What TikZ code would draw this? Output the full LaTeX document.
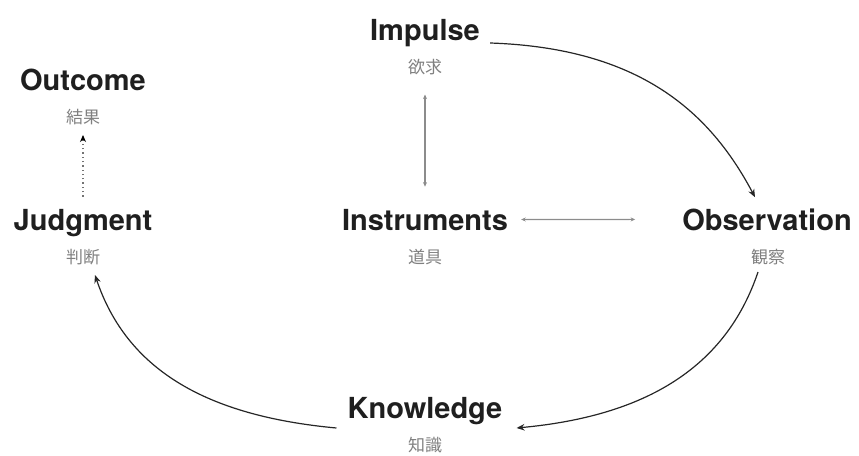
\documentclass[tikz,border=0pt]{standalone}
\usepackage{fontspec}
\setmainfont{TeX Gyre Heros}
\newfontfamily\cjk{Noto Sans CJK JP}
\usetikzlibrary{arrows.meta,calc}

\begin{document}
\begin{tikzpicture}[x=1pt,y=-1pt,
  term/.style={inner sep=0pt, anchor=base,
    font=\fontsize{29}{30}\selectfont\bfseries, text=black!88},
  gloss/.style={inner sep=0pt, font=\cjk\fontsize{17}{18}\selectfont, text=black!50},
  flow/.style={line width=1.2pt, draw=black!85,
    -{Stealth[length=8pt,width=6.5pt]}},
  link/.style={line width=1.1pt, draw=black!45,
    {Stealth[length=4.5pt,width=4pt]}-{Stealth[length=4.5pt,width=4pt]}},
  hint/.style={line width=1.2pt, draw=black!55,
    dash pattern=on 1.3pt off 3pt,
    -{Stealth[length=7pt,width=6pt,color=black]}}]

\useasboundingbox (0,0) rectangle (859,455);

% terms with their Japanese glosses
\node[term]  (out)  at (83,90)   {Outcome};
\node[gloss] (outg) at (83,117)  {結果};
\node[term]  (imp)  at (425,40)  {Impulse};
\node[gloss] (impg) at (425,67)  {欲求};
\node[term]  (jud)  at (83,230)  {Judgment};
\node[gloss] (judg) at (83,257)  {判断};
\node[term]  (ins)  at (425,230) {Instruments};
\node[gloss] (insg) at (425,257) {道具};
\node[term]  (obs)  at (767,230) {Observation};
\node[gloss] (obsg) at (768,257) {観察};
\node[term]  (kno)  at (425,418) {Knowledge};
\node[gloss] (knog) at (425,445) {知識};

% the main cycle
\draw[flow] ($(imp.base east)+(10,3)$)
  .. controls +(150,5) and +(-45,-85) .. ($(obs.north)+(-12,-11)$);
\draw[flow] ($(obsg.center)+(-10,15)$)
  .. controls +(-32,95) and +(130,-12) .. ($(kno.base east)+(14,10)$);
\draw[flow] ($(kno.base west)+(-11,10)$)
  .. controls +(-130,-12) and +(32,95) .. ($(judg.center)+(12,18)$);

% judgment leads to an outcome
\draw[hint] ($(jud.north)+(0,-12)$) -- ($(outg.center)+(0,18)$);

% instruments mediate impulse and observation
\draw[link, shorten <=19.5pt, shorten >=22pt] (impg) -- (ins);
\draw[link, shorten <=13pt, shorten >=47pt] (ins) -- (obs);
\end{tikzpicture}
\end{document}
